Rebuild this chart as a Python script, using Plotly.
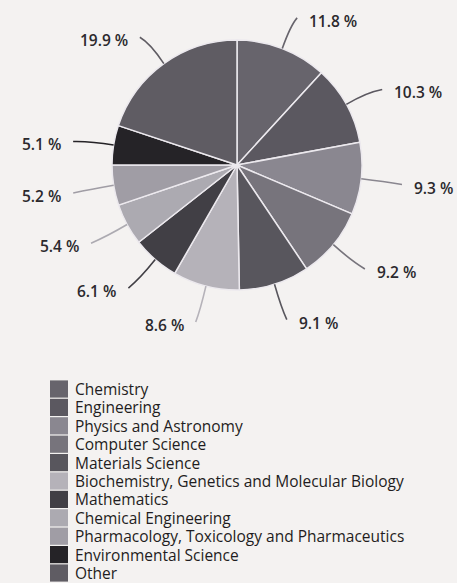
import math
import plotly.graph_objects as go

categories = [
    "Chemistry", "Engineering", "Physics and Astronomy", "Computer Science",
    "Materials Science", "Biochemistry, Genetics and Molecular Biology",
    "Mathematics", "Chemical Engineering",
    "Pharmacology, Toxicology and Pharmaceutics", "Environmental Science", "Other",
]
shares = [11.8, 10.3, 9.3, 9.2, 9.1, 8.6, 6.1, 5.4, 5.2, 5.1, 19.9]
colors = ["#67646c", "#5b5860", "#8a8790", "#77747c", "#58565d", "#b5b2b9",
          "#413f45", "#acaab1", "#a09da5", "#252327", "#5f5c63"]

W, H = 457, 583
CX, CY, R = 237, 165, 125  # pie center / radius in pixels

fig = go.Figure()
fig.add_trace(go.Pie(
    labels=categories, values=shares, sort=False, direction="clockwise",
    rotation=0, textinfo="none", hoverinfo="label+percent", showlegend=False,
    marker=dict(colors=colors, line=dict(color="#ece9ee", width=1.5)),
    domain=dict(x=[(CX - R) / W, (CX + R) / W], y=[1 - (CY + R) / H, 1 - (CY - R) / H]),
))

def px2paper(x, y):
    return x / W, 1 - y / H

total = sum(shares)
cum = 0.0
annotations = []
shapes = []
for v, col in zip(shares, colors):
    mid = (cum + v / 2) / total * 2 * math.pi
    cum += v
    s, c = math.sin(mid), math.cos(mid)
    side = 1 if s > 0 else -1
    # label anchor
    lx = CX + 166 * s + 10 * side
    ly = CY - 160 * c + 5
    # leader line from pie edge to just before the label
    x0, y0 = CX + R * s, CY - R * c
    xc, yc = CX + 148 * s, CY - 150 * c
    x1, y1 = lx - 10 * side, ly - 3
    p0 = px2paper(x0, y0); pc = px2paper(xc, yc); p1 = px2paper(x1, y1)
    shapes.append(dict(type="path", xref="paper", yref="paper",
                       path=f"M {p0[0]},{p0[1]} Q {pc[0]},{pc[1]} {p1[0]},{p1[1]}",
                       line=dict(color=col, width=1.6)))
    ax, ay = px2paper(lx, ly)
    annotations.append(dict(
        x=ax, y=ay, xref="paper", yref="paper", showarrow=False,
        text=f"{v:.1f} %", xanchor="left" if side > 0 else "right", yanchor="middle",
        font=dict(family="Open Sans", size=15.5, color="#2b292d", weight=600),
    ))

# legend drawn as swatches + text, one row per category
LEG_X0, LEG_SW, LEG_Y0, LEG_DY = 50, 18, 389, 18.4
for i, (name, col) in enumerate(zip(categories, colors)):
    yc = LEG_Y0 + i * LEG_DY
    xa, ya = px2paper(LEG_X0, yc - 8.6)
    xb, yb = px2paper(LEG_X0 + LEG_SW, yc + 8.6)
    shapes.append(dict(type="rect", xref="paper", yref="paper",
                       x0=xa, x1=xb, y0=yb, y1=ya,
                       fillcolor=col, line=dict(width=0)))
    tx, ty = px2paper(73, yc)
    annotations.append(dict(
        x=tx, y=ty, xref="paper", yref="paper", showarrow=False,
        text=name, xanchor="left", yanchor="middle",
        font=dict(family="Open Sans", size=15.5, color="#1f1d21"),
    ))

fig.update_layout(
    width=W, height=H,
    margin=dict(l=0, r=0, t=0, b=0),
    paper_bgcolor="#f4f2f1", plot_bgcolor="#f4f2f1",
    showlegend=False,
    annotations=annotations, shapes=shapes,
)

fig.write_html("out.html")
